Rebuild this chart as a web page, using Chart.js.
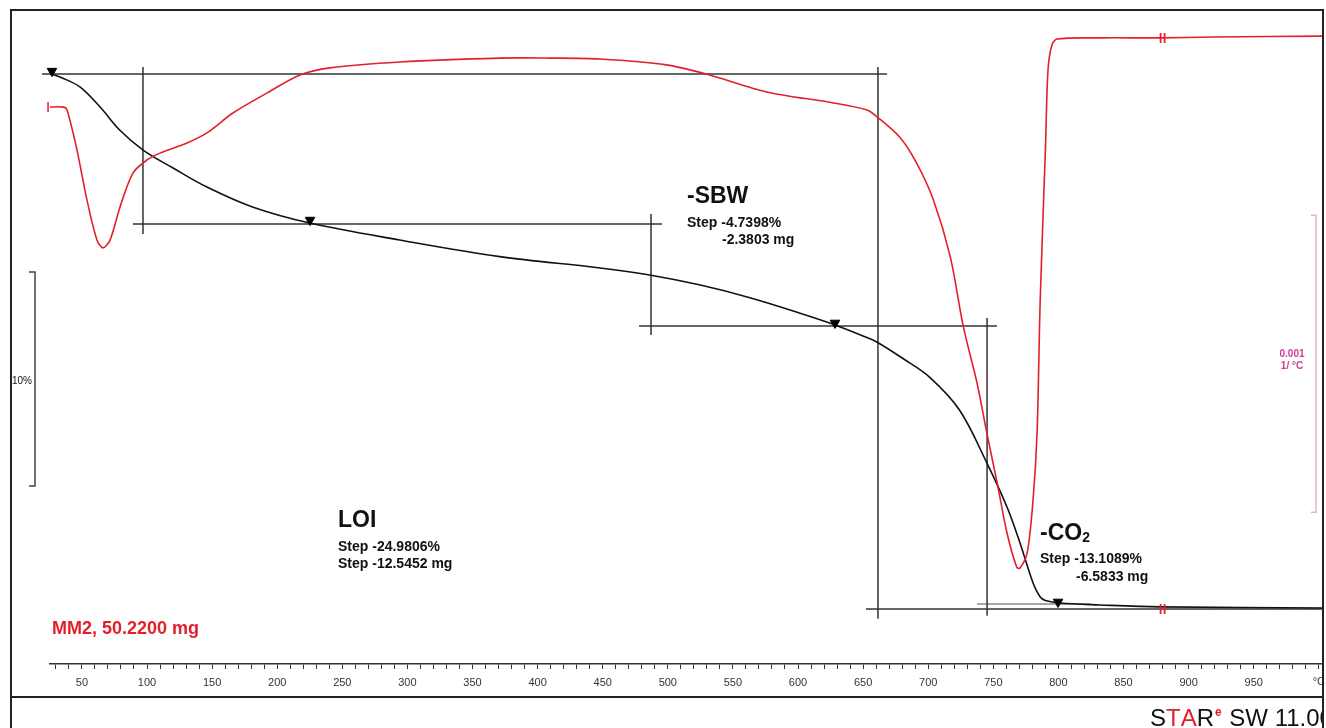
<!DOCTYPE html>
<html>
<head>
<meta charset="utf-8">
<script src="https://cdn.jsdelivr.net/npm/chart.js@4.4.1/dist/chart.umd.min.js"></script>
<style>
  body { margin: 0; background: #fff; }
  #wrap { width: 1326px; height: 728px; }
</style>
</head>
<body>
<div id="wrap"><canvas id="tga" width="1326" height="728"></canvas></div>
<script>
// TGA curve (mass %, black)
const tgaTemp = [24.5, 35, 48.5, 64, 79, 97, 120, 146, 181, 225, 294, 371, 448, 486, 525, 563, 601, 628, 652, 660.5, 680, 701, 724, 745, 760.5, 770.5, 780.5, 786, 790, 801, 832, 878, 1003];
const tgaMass = [100.0, 99.77, 99.35, 98.41, 97.34, 96.40, 95.56, 94.67, 93.74, 92.99, 92.20, 91.42, 90.89, 90.56, 90.09, 89.50, 88.79, 88.24, 87.66, 87.43, 86.68, 85.79, 84.25, 81.78, 79.72, 78.04, 76.17, 75.51, 75.35, 75.23, 75.14, 75.05, 75.00];

// DTG curve (1/°C, red)
const dtgTemp = [24, 36, 38.6, 46.2, 53.9, 61.6, 66.2, 71.6, 79.3, 89.2, 100, 110, 130.7, 146, 166, 192, 217.5, 240.6, 294, 371, 409.5, 448, 499, 532, 576, 627, 653, 660.7, 678, 691, 704, 717, 727, 737.5, 745, 753, 760.5, 768, 770.5, 776, 780.5, 783.6, 786, 790, 792, 795, 799, 832, 878, 920, 1003];
const dtgRate = [-0.000236, -0.000236, -0.000246, -0.000380, -0.000549, -0.000684, -0.000710, -0.000684, -0.000572, -0.000458, -0.000414, -0.000391, -0.000357, -0.000323, -0.000256, -0.000189, -0.000128, -0.000104, -0.000084, -0.000071, -0.000071, -0.000074, -0.000094, -0.000128, -0.000185, -0.000222, -0.000246, -0.000269, -0.000337, -0.000424, -0.000549, -0.000741, -0.000976, -0.001165, -0.001333, -0.001502, -0.001670, -0.001785, -0.001788, -0.001737, -0.001559, -0.001333, -0.000886, -0.000380, -0.000111, -0.000027, -0.000007, -0.000003, -0.000003, 0, 0.000003];

// step evaluation construction lines (°C, mass %)
const stepLines = [
  [[19.4, 99.95], [668.4, 99.95]],
  [[96.9, 100.28], [96.9, 92.48]],
  [[89.2, 92.94], [495.5, 92.94]],
  [[487.1, 93.41], [487.1, 87.76]],
  [[477.9, 88.18], [752.8, 88.18]],
  [[661.4, 100.28], [661.4, 74.49]],
  [[745.2, 88.55], [745.2, 74.63]],
  [[652.2, 74.95], [1003.2, 74.95]]
];
const endLine = [[737.5, 75.19], [824.3, 75.19]];

// evaluation limit markers
const markTemp = [27.0, 225.2, 628.4, 799.7];
const markMass = [100.09, 93.13, 88.32, 75.28];

// x axis ticks
const tickValues = [];
for (let t = 30; t <= 1000; t += 10) tickValues.push(t);

const FONT = "'Liberation Sans', Arial, sans-serif";
const RED = '#e3202a';

const datasets = [
  {
    label: 'TGA', data: tgaTemp.map((t, i) => ({ x: t, y: tgaMass[i] })),
    yAxisID: 'y', borderColor: '#111', borderWidth: 1.6, pointRadius: 0,
    tension: 0.35, order: 1
  },
  {
    label: 'DTG', data: dtgTemp.map((t, i) => ({ x: t, y: dtgRate[i] })),
    yAxisID: 'y2', borderColor: RED, borderWidth: 1.6, pointRadius: 0,
    tension: 0.3, order: 0
  },
  {
    label: 'marks', data: markTemp.map((t, i) => ({ x: t, y: markMass[i] })),
    yAxisID: 'y', showLine: false, pointStyle: 'triangle', rotation: 180,
    pointRadius: 5.5, backgroundColor: '#000', borderColor: '#000', clip: false, order: 0
  }
];
stepLines.forEach(seg => datasets.push({
  data: seg.map(p => ({ x: p[0], y: p[1] })), yAxisID: 'y',
  borderColor: '#333', borderWidth: 1.5, pointRadius: 0, clip: false, order: 3
}));
datasets.push({
  data: endLine.map(p => ({ x: p[0], y: p[1] })), yAxisID: 'y',
  borderColor: '#8a8a8a', borderWidth: 1.5, pointRadius: 0, clip: false, order: 3
});

const overlay = {
  id: 'overlay',
  afterDraw(chart) {
    const ctx = chart.ctx;
    const xs = chart.scales.x, ys = chart.scales.y, y2 = chart.scales.y2;
    ctx.save();

    // unit label in place of the 1000 tick
    ctx.fillStyle = '#333';
    ctx.font = '11px ' + FONT;
    ctx.textAlign = 'center'; ctx.textBaseline = 'middle';
    ctx.fillText('°C', xs.getPixelForValue(1000), 682);

    // frame
    ctx.strokeStyle = '#222';
    ctx.lineWidth = 2;
    ctx.beginPath();
    ctx.moveTo(11, 728); ctx.lineTo(11, 10); ctx.lineTo(1323, 10); ctx.lineTo(1323, 728);
    ctx.moveTo(11, 697); ctx.lineTo(1323, 697);
    ctx.stroke();

    // 10 % scale bar
    const t1 = ys.getPixelForValue(90.7), b1 = ys.getPixelForValue(80.7);
    ctx.strokeStyle = '#444'; ctx.lineWidth = 1.5;
    ctx.beginPath();
    ctx.moveTo(29, t1); ctx.lineTo(35, t1); ctx.lineTo(35, b1); ctx.lineTo(29, b1);
    ctx.stroke();
    ctx.fillStyle = '#111';
    ctx.font = '10px ' + FONT;
    ctx.textAlign = 'left'; ctx.textBaseline = 'middle';
    ctx.fillText('10%', 12, (t1 + b1) / 2 + 2);

    // 0.001 1/°C scale bar
    const t2 = y2.getPixelForValue(-0.0006), b2 = y2.getPixelForValue(-0.0016);
    ctx.strokeStyle = '#eeaad6';
    ctx.beginPath();
    ctx.moveTo(1311, t2); ctx.lineTo(1316, t2); ctx.lineTo(1316, b2); ctx.lineTo(1311, b2);
    ctx.stroke();
    ctx.fillStyle = '#cc3d96';
    ctx.font = 'bold 10px ' + FONT;
    ctx.textAlign = 'center';
    ctx.fillText('0.001', 1292, 354);
    ctx.fillText('1/ °C', 1292, 366);

    // curve break marks
    ctx.strokeStyle = RED; ctx.lineWidth = 1.8;
    const bx = xs.getPixelForValue(880);
    [y2.getPixelForValue(-0.000003), ys.getPixelForValue(74.95)].forEach(py => {
      ctx.beginPath();
      ctx.moveTo(bx - 2, py - 5); ctx.lineTo(bx - 2, py + 5);
      ctx.moveTo(bx + 2, py - 5); ctx.lineTo(bx + 2, py + 5);
      ctx.stroke();
    });
    ctx.lineWidth = 1.5;
    const sx = xs.getPixelForValue(dtgTemp[0]), sy = y2.getPixelForValue(dtgRate[0]);
    ctx.beginPath(); ctx.moveTo(sx, sy - 5); ctx.lineTo(sx, sy + 5); ctx.stroke();

    // step annotations
    ctx.fillStyle = '#111';
    ctx.textAlign = 'left'; ctx.textBaseline = 'alphabetic';
    ctx.font = 'bold 23px ' + FONT;
    ctx.fillText('-SBW', 687, 203);
    ctx.fillText('LOI', 338, 527);
    ctx.fillText('-CO', 1040, 540);
    const coW = ctx.measureText('-CO').width;
    ctx.font = 'bold 14px ' + FONT;
    ctx.fillText('2', 1040 + coW, 542);
    ctx.fillText('Step -4.7398%', 687, 227);
    ctx.fillText('-2.3803 mg', 722, 244);
    ctx.fillText('Step -24.9806%', 338, 551);
    ctx.fillText('Step -12.5452 mg', 338, 568);
    ctx.fillText('Step -13.1089%', 1040, 563);
    ctx.fillText('-6.5833 mg', 1076, 581);

    ctx.fillStyle = RED;
    ctx.font = 'bold 18px ' + FONT;
    ctx.fillText('MM2, 50.2200 mg', 52, 634);

    // software label, clipped at frame
    ctx.beginPath(); ctx.rect(11, 698, 1311, 30); ctx.clip();
    let px = 1150;
    const parts = [['S', '#111'], ['T', RED], ['A', RED], ['R', '#111']];
    ctx.font = '24px ' + FONT;
    parts.forEach(([s, c]) => { ctx.fillStyle = c; ctx.fillText(s, px, 726); px += ctx.measureText(s).width; });
    ctx.font = 'bold 12px ' + FONT;
    ctx.fillStyle = RED;
    ctx.fillText('e', px + 1, 716);
    px += ctx.measureText('e').width + 2;
    ctx.font = '24px ' + FONT;
    ctx.fillStyle = '#111';
    ctx.fillText(' SW 11.00', px, 726);

    ctx.restore();
  }
};

new Chart(document.getElementById('tga'), {
  type: 'line',
  data: { datasets: datasets },
  options: {
    responsive: false,
    animation: false,
    layout: { autoPadding: false, padding: { left: 50, right: 3, top: 11, bottom: 0 } },
    plugins: { legend: { display: false }, tooltip: { enabled: false } },
    scales: {
      x: {
        type: 'linear', position: 'bottom', min: 25.5, max: 1003.2,
        afterBuildTicks: (s) => { s.ticks = tickValues.map(v => ({ value: v })); },
        afterFit: (s) => { s.height = 64; },
        ticks: {
          autoSkip: false, maxRotation: 0, minRotation: 0, padding: 7,
          color: '#333', font: { family: FONT, size: 11 },
          callback: (v) => (v % 50 === 0 && v < 1000) ? String(v) : ''
        },
        grid: { drawOnChartArea: false, drawTicks: true, tickLength: 5, color: '#333', lineWidth: 1 },
        border: { display: true, color: '#333', width: 1.5 }
      },
      y: { type: 'linear', display: false, min: 72.38, max: 102.9 },
      y2: { type: 'linear', display: false, min: -0.002111, max: 0.0000875 }
    }
  },
  plugins: [overlay]
});
</script>
</body>
</html>
